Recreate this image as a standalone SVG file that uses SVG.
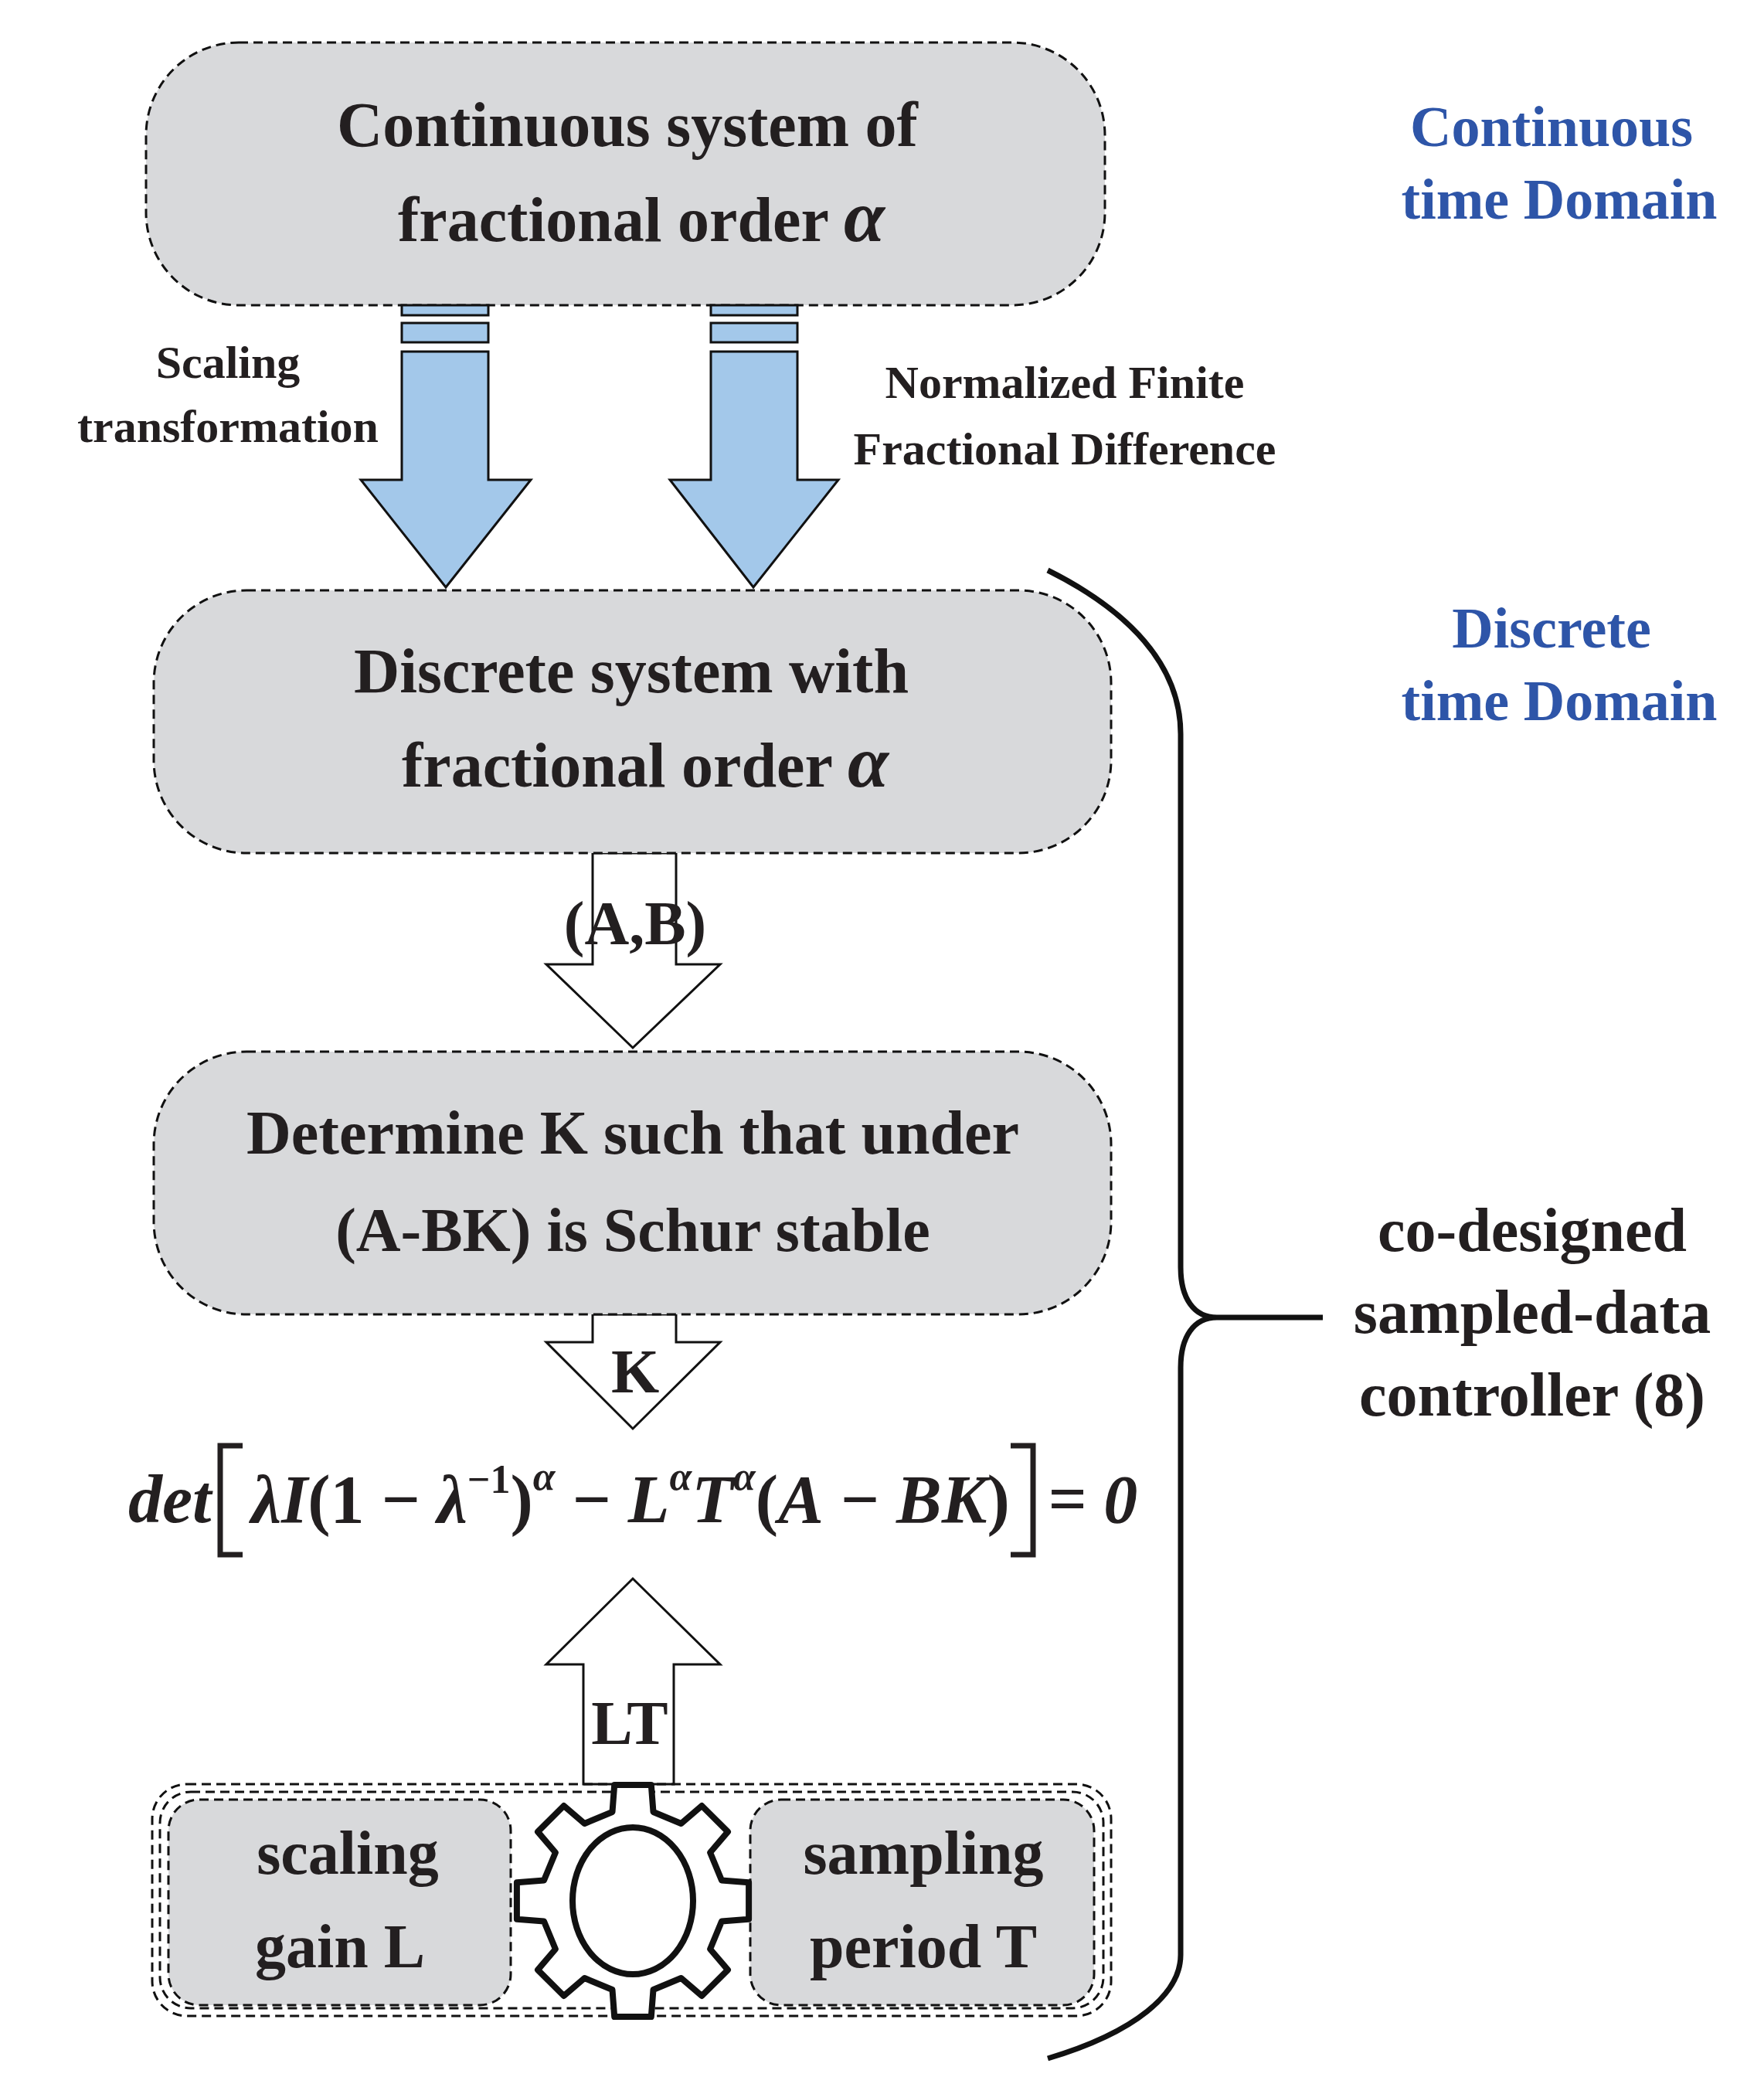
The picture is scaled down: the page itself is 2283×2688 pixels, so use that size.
<svg xmlns="http://www.w3.org/2000/svg" width="2283" height="2688" viewBox="0 0 2283 2688">
<style>
.box{fill:#d8d9db;stroke:#111;stroke-width:3;stroke-dasharray:12 7}
.dash{fill:none;stroke:#111;stroke-width:3;stroke-dasharray:12 7}
.t{font-family:"Liberation Serif",serif;font-weight:bold;fill:#231f20;text-anchor:middle}
.blue{font-family:"Liberation Serif",serif;font-weight:bold;fill:#2e55a8;text-anchor:middle;font-size:74px}
.ba{fill:#a3c8ea;stroke:#111;stroke-width:3}
.wa{fill:#fff;stroke:#111;stroke-width:3}
.eq{font-family:"Liberation Serif",serif;font-style:italic;font-weight:bold;fill:#231f20;font-size:88px}
</style>
<g id="continuous">
<rect class="box" x="189" y="55" width="1241" height="340" rx="120"/>
<text class="t" font-size="82" x="812" y="189">Continuous system of</text>
<text class="t" font-size="82" x="830" y="312">fractional order <tspan font-style="italic" font-size="96">α</tspan></text>
</g>
<g id="domain-labels">
<text class="blue" x="2008" y="189">Continuous</text>
<text class="blue" x="2018" y="283">time Domain</text>
<text class="blue" x="2008" y="838">Discrete</text>
<text class="blue" x="2018" y="932">time Domain</text>
</g>
<g id="connectors">
<rect class="ba" x="520" y="395" width="112" height="13"/>
<rect class="ba" x="520" y="418" width="112" height="25"/>
<polygon class="ba" points="520,455 632,455 632,621 687,621 577,760 467,621 520,621"/>
<rect class="ba" x="920" y="395" width="112" height="13"/>
<rect class="ba" x="920" y="418" width="112" height="25"/>
<polygon class="ba" points="920,455 1032,455 1032,621 1085,621 975,760 867,621 920,621"/>
<polygon class="wa" points="767,1104 875,1104 875,1248 932,1248 819,1356 707,1248 767,1248"/>
<polygon class="wa" points="767,1701 875,1701 875,1737 932,1737 819,1849 707,1737 767,1737"/>
<polygon class="wa" points="755,2309 872,2309 872,2154 932,2154 819,2043 707,2154 755,2154"/>
<path d="M1356,738 C1460,790 1528,860 1528,950 L1528,1640 C1528,1680 1545,1705 1575,1705 L1712,1705 M1575,1705 C1545,1705 1528,1730 1528,1770 L1528,2530 C1528,2580 1470,2630 1356,2664" fill="none" stroke="#111" stroke-width="7"/>
</g>
<g id="labels">
<text class="t" font-size="60" x="295" y="489">Scaling</text>
<text class="t" font-size="60" x="295" y="572">transformation</text>
<text class="t" font-size="60" x="1378" y="515">Normalized Finite</text>
<text class="t" font-size="60" x="1378" y="601">Fractional Difference</text>
<text class="t" font-size="80" x="822" y="1222">(A,B)</text>
<text class="t" font-size="80" x="822" y="1802">K</text>
<text class="t" font-size="80" x="815" y="2257">LT</text>
</g>
<g id="discrete">
<rect class="box" x="199" y="764" width="1239" height="340" rx="120"/>
<text class="t" font-size="82" x="817" y="896">Discrete system with</text>
<text class="t" font-size="82" x="835" y="1018">fractional order <tspan font-style="italic" font-size="96">α</tspan></text>
</g>
<g id="determine">
<rect class="box" x="199" y="1361" width="1239" height="340" rx="120"/>
<text class="t" font-size="80" x="819" y="1493">Determine K such that under</text>
<text class="t" font-size="80" x="819" y="1619">(A-BK) is Schur stable</text>
</g>
<g id="equation">
<text class="eq" x="166" y="1970">det</text>
<path d="M314,1871 L285,1871 L285,2012 L314,2012 M1308,1871 L1337,1871 L1337,2012 L1308,2012" fill="none" stroke="#231f20" stroke-width="7"/>
<text class="eq" x="325" y="1970">λI<tspan font-style="normal">(1 − </tspan>λ<tspan font-style="normal" font-size="52" dy="-38">−1</tspan><tspan font-style="normal" dy="38">)</tspan><tspan font-size="52" dy="-42">α</tspan><tspan font-style="normal" dy="42"> − </tspan>L<tspan font-size="52" dy="-42">α</tspan><tspan dy="42">T</tspan><tspan font-size="52" dy="-42">α</tspan><tspan font-style="normal" dy="42">(</tspan>A<tspan font-style="normal"> − </tspan>BK<tspan font-style="normal">)</tspan></text>
<text class="eq" x="1356" y="1970" font-style="normal">= 0</text>
</g>
<g id="params">
<rect class="dash" x="197" y="2309" width="1241" height="300" rx="45"/>
<rect class="dash" x="207" y="2319" width="1221" height="280" rx="40"/>
</g>
<g id="scaling-gain">
<rect class="box" x="218" y="2329" width="443" height="266" rx="40"/>
<text class="t" font-size="80" x="450" y="2425">scaling</text>
<text class="t" font-size="80" x="440" y="2546">gain L</text>
</g>
<g id="sampling-period">
<rect class="box" x="971" y="2329" width="445" height="266" rx="40"/>
<text class="t" font-size="80" x="1195" y="2425">sampling</text>
<text class="t" font-size="80" x="1195" y="2546">period T</text>
</g>
<g id="gear">
<polygon points="792.5,2345 795.2,2309.9 842.8,2309.9 845.5,2345 881.5,2360 908.3,2337 942,2370.7 919.1,2397.5 934,2433.5 969.1,2436.2 969.1,2483.8 934,2486.5 919.1,2522.5 942,2549.3 908.3,2583 881.5,2560 845.5,2575 842.8,2610.1 795.2,2610.1 792.5,2575 756.5,2560 729.7,2583 696,2549.3 718.9,2522.5 704,2486.5 668.9,2483.8 668.9,2436.2 704,2433.5 718.9,2397.5 696,2370.7 729.7,2337 756.5,2360" fill="#fff" stroke="#111" stroke-width="8" stroke-linejoin="round"/>
<ellipse cx="819" cy="2460" rx="78" ry="95" fill="#fff" stroke="#111" stroke-width="8"/>
</g>
<g id="controller">
<text class="t" font-size="80" x="1983" y="1619">co-designed</text>
<text class="t" font-size="80" x="1983" y="1725">sampled-data</text>
<text class="t" font-size="80" x="1983" y="1832">controller (8)</text>
</g>
</svg>
